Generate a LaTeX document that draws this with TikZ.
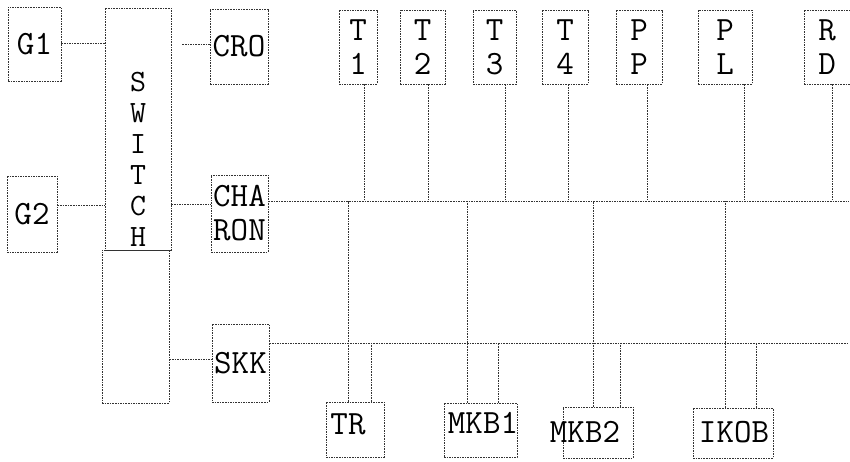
\documentclass[tikz,border=0pt]{standalone}
\usepackage{fontspec}
\begin{document}
\begin{tikzpicture}[x=1pt, y=-1pt,
  wire/.style={draw=black!80, line width=0.7pt, dash pattern=on 1.6pt off 1pt},
  box/.style={wire, inner sep=0pt, align=center, font=\ttfamily\fontsize{34}{34}\selectfont},
  txt/.style={inner sep=0pt, align=center, font=\ttfamily\fontsize{34}{34}\selectfont}
]
\useasboundingbox (0,0) rectangle (850,461);
% left side: generators, switch, outputs
\node[box, minimum width=53, minimum height=74] (g1) at (34.5,44) {G1};
\node[box, minimum width=50, minimum height=76] (g2) at (32,214) {G2};
\node[box, minimum width=66, minimum height=242] (sw) at (138,129) {};
\node[txt, anchor=south, font=\ttfamily\fontsize{31}{31}\selectfont] (swtxt) at ([yshift=4]sw.south) {S\\W\\I\\T\\C\\H};
\node[box, minimum width=67, minimum height=153] (swlow) at (135.5,326.5) {};
\node[box, minimum width=58, minimum height=75] (cro) at (239,46.5) {CRO};
\node[box, minimum width=57, minimum height=77] (charon) at (239.5,213.5) {CHA\\RON};
\node[box, minimum width=57, minimum height=78] (skk) at (240.5,363) {SKK};
% top row
\node[box, minimum width=38, minimum height=74] (t1) at (358,47) {T\\1};
\node[box, minimum width=45, minimum height=74] (t2) at (422.5,47) {T\\2};
\node[box, minimum width=43, minimum height=74] (t3) at (494.5,47) {T\\3};
\node[box, minimum width=46, minimum height=74] (t4) at (565,47) {T\\4};
\node[box, minimum width=46, minimum height=74] (pp) at (639,47) {P\\P};
\node[box, minimum width=54, minimum height=74] (pl) at (725,47) {P\\L};
\node[box, minimum width=46, minimum height=74] (rd) at (827,47) {R\\D};
% bottom row
\node[box, minimum width=58, minimum height=55] (tr) at (355,429.5) {};
\node[box, minimum width=73, minimum height=54] (mkb1) at (480.5,430) {};
\node[box, minimum width=70, minimum height=51] (mkb2) at (598,432.5) {};
\node[box, minimum width=80, minimum height=50] (ikob) at (733,433) {};
\node[txt] (trtxt) at (348,424) {TR};
\node[txt] (mkb1txt) at (483,423) {MKB1};
\node[txt] (mkb2txt) at (585,432) {MKB2};
\node[txt] (ikobtxt) at (734,432) {IKOB};
% bus ends
\coordinate (busa) at (849,201);
\coordinate (busb) at (849,343);
% connections
\draw[wire] ([yshift=1]g1.east) -- ([yshift=1]g1.east -| sw.west);
\draw[wire] ([yshift=9]g2.east) -- ([yshift=9]g2.east -| sw.west);
\draw[wire, shorten <=11pt] ([yshift=2.5]cro.west -| sw.east) -- ([yshift=2.5]cro.west);
\draw[wire] ([yshift=9.5]charon.west -| sw.east) -- ([yshift=9.5]charon.west);
\draw[wire] ([yshift=4]skk.west -| swlow.east) -- ([yshift=4]skk.west);
\draw[wire] (charon.east |- busa) -- (busa);
\draw[wire] (skk.east |- busb) -- (busb);
\foreach \n/\s in {t1/6,t2/5.5,t3/10.5,t4/3,pp/8,pl/19,rd/5}
  \draw[wire] ([xshift=\s]\n.south) -- ([xshift=\s]\n.south |- busa);
\foreach \n/\a/\b in {tr/-7/16,mkb1/-13.5/17.5,mkb2/-5/22,ikob/-8/23} {
  \draw[wire] ([xshift=\a]\n.north) -- ([xshift=\a]\n.north |- busa);
  \draw[wire] ([xshift=\b]\n.north) -- ([xshift=\b]\n.north |- busb);
}
\end{tikzpicture}
\end{document}
